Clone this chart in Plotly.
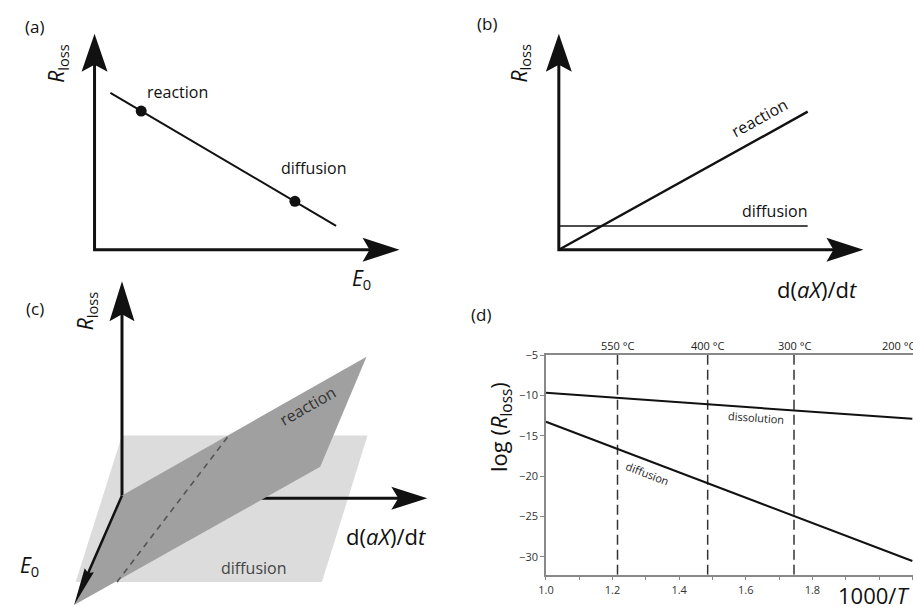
import math
import plotly.graph_objects as go

W, H = 913, 607
FONT = "Open Sans"
INK = "#111111"

# ---------------- data ----------------
# (a) schematic: R_loss decreasing with E0
a_E0 = [0.052, 0.792]
a_R = [0.726, 0.111]
a_pt_E0 = [0.153, 0.657]
a_pt_R = [0.642, 0.224]
a_pt_names = ["reaction", "diffusion"]
a_pt_shift = [(36, 19), (19, 33)]

# (b) schematic: R_loss vs d(aX)/dt
b_rate = [0.0, 0.817]
b_reaction = [0.0, 0.639]
b_diffusion = [0.11, 0.11]

# (c) oblique 3-D sketch (units of the sketch)
c_diff_x = [0.0, 2.477, 2.017, -0.467]
c_diff_y = [0.607, 0.607, -0.877, -0.877]
c_reac_x = [0.0, 2.467, 2.0, -0.483]
c_reac_y = [0.0, 1.407, 0.29, -1.11]
c_cross_x = [-0.05, 1.077]
c_cross_y = [-0.877, 0.607]
c_E0_axis = (-0.483, -1.11)
c_R_axis_top = 2.17
c_rate_axis_end = 3.08
c_rate_axis_y = -0.027

# (d) log(R_loss) vs 1000/T
d_invT = [1.0, 2.1]
d_dissolution = [-9.67, -12.9]
d_diffusion = [-13.25, -30.5]
d_temps_C = [550, 400, 300, 200]
d_temp_labels = ["550 °C", "400 °C", "300 °C", "200 °C"]
d_yticks = [-5, -10, -15, -20, -25, -30]
d_xticks = [1.0, 1.2, 1.4, 1.6, 1.8, 2.0]
d_xticklabels = ["1.0", "1.2", "1.4", "1.6", "1.8", ""]
d_xrange = [1.0, 2.102]
d_yrange = [-32.2, -5]


# ---------------- helpers ----------------
def px_axes(left, right, top, bottom, ox, oy, ux, uy):
    xd = [left / W, right / W]
    yd = [1 - bottom / H, 1 - top / H]
    xr = [(left - ox) / ux, (right - ox) / ux]
    yr = [(oy - bottom) / uy, (oy - top) / uy]
    return xd, xr, yd, yr


def arrowhead(xref, yref, tx, ty, ang_deg, L=38, Wd=26, N=7, color=INK):
    a = math.radians(ang_deg)
    ca, sa = math.cos(a), math.sin(a)
    pts = [(0, 0), (-L, Wd / 2), (-L + N, 0), (-L, -Wd / 2)]
    rp = [(px * ca - py * sa, px * sa + py * ca) for px, py in pts]
    path = "M " + " L ".join(f"{x:.2f},{y:.2f}" for x, y in rp) + " Z"
    return dict(type="path", xref=xref, yref=yref, xsizemode="pixel",
                ysizemode="pixel", xanchor=tx, yanchor=ty, path=path,
                fillcolor=color, line=dict(width=0), layer="above")


def ptxt(px, py, text, size=16, angle=0, color=INK, xanchor="center",
         yanchor="middle"):
    return dict(x=px / W, y=1 - py / H, xref="paper", yref="paper", text=text,
                showarrow=False, textangle=angle, xanchor=xanchor,
                yanchor=yanchor, font=dict(family=FONT, size=size, color=color))


fig = go.Figure()
shapes = []
annots = []

# ---------------- panel (a) ----------------
xd, xr, yd, yr = px_axes(0, 455, 0, 300, 87.3, 245, 307.7, 219)
fig.update_layout(xaxis=dict(domain=xd, range=xr, visible=False),
                  yaxis=dict(domain=yd, range=yr, visible=False))
fig.add_trace(go.Scatter(x=[0, 0, 1 - 20 / 307.7], y=[1 - 20 / 219, 0, 0],
                         mode="lines", line=dict(color=INK, width=3),
                         xaxis="x", yaxis="y"))
shapes.append(arrowhead("x", "y", 0, 1, 90))
shapes.append(arrowhead("x", "y", 1, 0, 0, L=37, Wd=24))
fig.add_trace(go.Scatter(x=a_E0, y=a_R, mode="lines",
                         line=dict(color=INK, width=2), xaxis="x", yaxis="y"))
fig.add_trace(go.Scatter(x=a_pt_E0, y=a_pt_R, mode="markers",
                         marker=dict(color=INK, size=11), xaxis="x", yaxis="y"))
for xv, yv, name, (dx, dy) in zip(a_pt_E0, a_pt_R, a_pt_names, a_pt_shift):
    annots.append(dict(x=xv, y=yv, xref="x", yref="y", text=name,
                       showarrow=False, xshift=dx, yshift=dy,
                       font=dict(family=FONT, size=16, color=INK)))
annots.append(ptxt(50, 56, "<i>R</i><sub>loss</sub>", 21, -90))
annots.append(ptxt(357, 275, "<i>E</i><sub>0</sub>", 21))
annots.append(ptxt(27, 19, "(a)", 17))

# ---------------- panel (b) ----------------
xd, xr, yd, yr = px_axes(456, 913, 0, 300, 555.7, 245, 307.3, 219)
fig.update_layout(xaxis2=dict(domain=xd, range=xr, visible=False),
                  yaxis2=dict(domain=yd, range=yr, visible=False))
fig.add_trace(go.Scatter(x=[0, 0, 1 - 20 / 307.3], y=[1 - 20 / 219, 0, 0],
                         mode="lines", line=dict(color=INK, width=3),
                         xaxis="x2", yaxis="y2"))
shapes.append(arrowhead("x2", "y2", 0, 1, 90))
shapes.append(arrowhead("x2", "y2", 1, 0, 0, L=37, Wd=24))
fig.add_trace(go.Scatter(x=b_rate, y=b_reaction, mode="lines",
                         line=dict(color=INK, width=2.4), xaxis="x2", yaxis="y2"))
fig.add_trace(go.Scatter(x=b_rate, y=b_diffusion, mode="lines",
                         line=dict(color=INK, width=1.6), xaxis="x2", yaxis="y2"))
annots.append(ptxt(757.7, 111.7, "reaction", 16, -29))
annots.append(ptxt(773.3, 205.7, "diffusion", 16))
annots.append(ptxt(516.7, 56, "<i>R</i><sub>loss</sub>", 21, -90))
annots.append(ptxt(816, 285, "d(<i>aX</i>)/d<i>t</i>", 22))
annots.append(ptxt(483, 16, "(b)", 17))

# ---------------- panel (c) ----------------
xd, xr, yd, yr = px_axes(0, 455, 262, 607, 115, 494, 100, 100)
fig.update_layout(xaxis3=dict(domain=xd, range=xr, visible=False),
                  yaxis3=dict(domain=yd, range=yr, visible=False))
fig.add_trace(go.Scatter(x=c_diff_x + [c_diff_x[0]], y=c_diff_y + [c_diff_y[0]],
                         mode="lines", fill="toself", fillcolor="#dcdcdc",
                         line=dict(width=0), xaxis="x3", yaxis="y3"))
fig.add_trace(go.Scatter(x=[0, 0], y=[0, c_R_axis_top - 0.2], mode="lines",
                         line=dict(color=INK, width=3), xaxis="x3", yaxis="y3"))
fig.add_trace(go.Scatter(x=[0, c_rate_axis_end - 0.2],
                         y=[c_rate_axis_y, c_rate_axis_y], mode="lines",
                         line=dict(color=INK, width=3), xaxis="x3", yaxis="y3"))
shapes.append(arrowhead("x3", "y3", 0, c_R_axis_top, 90, L=40, Wd=25))
shapes.append(arrowhead("x3", "y3", c_rate_axis_end, c_rate_axis_y, 0, L=36, Wd=23))
fig.add_trace(go.Scatter(x=c_reac_x + [c_reac_x[0]], y=c_reac_y + [c_reac_y[0]],
                         mode="lines", fill="toself", fillcolor="#a0a0a0",
                         line=dict(width=0), xaxis="x3", yaxis="y3"))
fig.add_trace(go.Scatter(x=c_cross_x, y=c_cross_y, mode="lines",
                         line=dict(color="#555555", width=1.6, dash="6px,5px"),
                         xaxis="x3", yaxis="y3"))
ex, ey = c_E0_axis
elen = math.hypot(ex, ey)
fig.add_trace(go.Scatter(x=[0, ex * (1 - 0.2 / elen)], y=[0, ey * (1 - 0.2 / elen)],
                         mode="lines", line=dict(color=INK, width=2.5),
                         xaxis="x3", yaxis="y3"))
shapes.append(arrowhead("x3", "y3", ex, ey, math.degrees(math.atan2(ey, ex)),
                        L=38, Wd=10, N=3))
annots.append(ptxt(302, 403, "reaction", 16, -29.6, "#333333"))
annots.append(ptxt(248, 567, "diffusion", 16, 0, "#444444"))
annots.append(ptxt(381, 535, "d(<i>aX</i>)/d<i>t</i>", 22))
annots.append(ptxt(22, 565, "<i>E</i><sub>0</sub>", 21))
annots.append(ptxt(79, 307, "<i>R</i><sub>loss</sub>", 21, -90))
annots.append(ptxt(27, 305, "(c)", 17))

# ---------------- panel (d) ----------------
AX = "#888888"
d_xdomain = [542.7 / W, 1.0]
fig.update_layout(
    xaxis4=dict(domain=d_xdomain, range=d_xrange, anchor="y4",
                showline=True, linecolor=AX, linewidth=1.5, mirror=True,
                showgrid=False, zeroline=False, ticks="outside", ticklen=4,
                tickcolor=AX, tickwidth=1.2, tickmode="array",
                tickvals=d_xticks, ticktext=d_xticklabels,
                tickfont=dict(family=FONT, size=11, color="#333333"),
                minor=dict(tick0=1.0, dtick=0.1, ticks="outside", ticklen=4,
                           tickcolor=AX, tickwidth=1.2, showgrid=False)),
    yaxis4=dict(domain=[1 - 574.3 / H, 1 - 351.7 / H], range=d_yrange,
                anchor="x4", showline=True, linecolor=AX, linewidth=1.5,
                showgrid=False, zeroline=False, ticks="outside", ticklen=4,
                tickcolor=AX, tickwidth=1.2, tickmode="array",
                tickvals=d_yticks,
                tickfont=dict(family=FONT, size=11, color="#333333")),
)
for T, lab in zip(d_temps_C, d_temp_labels):
    xv = 1000.0 / (T + 273.15)
    fig.add_trace(go.Scatter(x=[xv, xv], y=d_yrange, mode="lines",
                             line=dict(color="#333333", width=1.5,
                                       dash="10px,5px"),
                             xaxis="x4", yaxis="y4"))
    # top temperature scale (paper position from the 1000/T axis)
    xp = d_xdomain[0] + (xv - d_xrange[0]) / (d_xrange[1] - d_xrange[0]) * (
        d_xdomain[1] - d_xdomain[0])
    annots.append(dict(x=xp, y=1 - 341.7 / H, xref="paper", yref="paper",
                       text=lab, showarrow=False,
                       xanchor="right" if xv > d_xrange[1] else "center",
                       yanchor="middle",
                       font=dict(family=FONT, size=11, color="#222222")))
fig.add_trace(go.Scatter(x=d_invT, y=d_dissolution, mode="lines",
                         line=dict(color=INK, width=2), xaxis="x4", yaxis="y4"))
fig.add_trace(go.Scatter(x=d_invT, y=d_diffusion, mode="lines",
                         line=dict(color=INK, width=2), xaxis="x4", yaxis="y4"))
slope_dis = (d_dissolution[1] - d_dissolution[0]) / (d_invT[1] - d_invT[0])
slope_dif = (d_diffusion[1] - d_diffusion[0]) / (d_invT[1] - d_invT[0])
annots.append(dict(x=1.632, y=d_dissolution[0] + slope_dis * 0.632,
                   xref="x4", yref="y4", text="dissolution", showarrow=False,
                   textangle=4, yshift=-10,
                   font=dict(family=FONT, size=11, color="#222222")))
annots.append(dict(x=1.314, y=d_diffusion[0] + slope_dif * 0.314,
                   xref="x4", yref="y4", text="diffusion", showarrow=False,
                   textangle=21, yshift=-12, xshift=-3,
                   font=dict(family=FONT, size=11, color="#222222")))
annots.append(ptxt(497, 425, "log (<i>R</i><sub>loss</sub>)", 22, -90))
annots.append(ptxt(911, 595, "1000/<i>T</i>", 22, 0, INK, xanchor="right"))
annots.append(ptxt(477, 311, "(d)", 17))

fig.update_layout(width=W, height=H, margin=dict(l=0, r=0, t=0, b=0),
                  paper_bgcolor="white", plot_bgcolor="white",
                  showlegend=False, shapes=shapes, annotations=annots,
                  font=dict(family=FONT))
fig.update_traces(hoverinfo="skip")
fig.write_html("out.html", config={"displayModeBar": False},
               post_script="document.body.style.margin='0px';"
                           "document.body.style.overflow='hidden';")
